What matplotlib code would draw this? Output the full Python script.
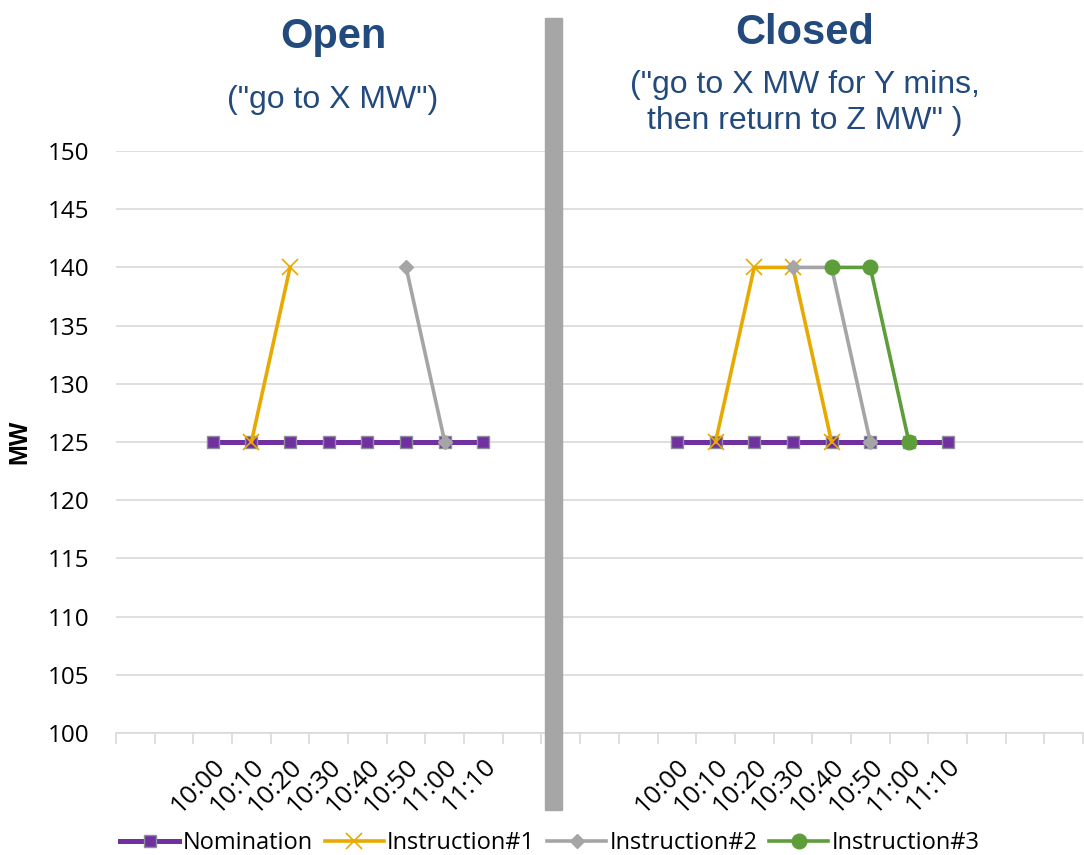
import numpy as np
import matplotlib
matplotlib.use("Agg")
import matplotlib.pyplot as plt
from matplotlib.patches import Rectangle

# Category slots along one shared time axis (left block = Open, right block = Closed)
n_slots = 25
time_labels = ["10:00", "10:10", "10:20", "10:30", "10:40", "10:50", "11:00", "11:10"]
open_start = 2
closed_start = 14

nan = np.nan
# Values per time step for each block (NaN = no point)
nomination_open = [125, 125, 125, 125, 125, 125, 125, 125]
instr1_open = [nan, 125, 140, nan, nan, nan, nan, nan]
instr2_open = [nan, nan, nan, nan, nan, 140, 125, nan]
instr3_open = [nan, nan, nan, nan, nan, nan, nan, nan]

nomination_closed = [125, 125, 125, 125, 125, 125, 125, 125]
instr1_closed = [nan, 125, 140, 140, 125, nan, nan, nan]
instr2_closed = [nan, nan, nan, 140, 140, 125, nan, nan]
instr3_closed = [nan, nan, nan, nan, 140, 140, 125, nan]

y_ticks = [100, 105, 110, 115, 120, 125, 130, 135, 140, 145, 150]


def full_series(open_vals, closed_vals):
    s = np.full(n_slots, np.nan)
    s[open_start:open_start + len(open_vals)] = open_vals
    s[closed_start:closed_start + len(closed_vals)] = closed_vals
    return s


x = np.arange(n_slots)
labels = [""] * n_slots
for i, t in enumerate(time_labels):
    labels[open_start + i] = t
    labels[closed_start + i] = t

plt.rcParams["font.family"] = ["Liberation Sans", "DejaVu Sans"]
body_font = ["Open Sans", "DejaVu Sans"]

fig = plt.figure(figsize=(10.84, 8.55), dpi=100)
ax = fig.add_axes([116 / 1084, 1 - 733 / 855, 967 / 1084, (733 - 151) / 855])

purple = "#7030A0"
gold = "#E8AA00"
grey = "#A5A5A5"
green = "#5E9E3A"

ax.plot(x, full_series(nomination_open, nomination_closed), color=purple, lw=3.6,
        marker="s", ms=8, mfc=purple, mec="#8E8E9E", mew=1.0, label="Nomination", zorder=3)
ax.plot(x, full_series(instr1_open, instr1_closed), color=gold, lw=2.6,
        marker="x", ms=11, mew=1.2, mec=gold, label="Instruction#1", zorder=4)
ax.plot(x, full_series(instr2_open, instr2_closed), color=grey, lw=2.6,
        marker="D", ms=7, mfc=grey, mec=grey, label="Instruction#2", zorder=5)
ax.plot(x, full_series(instr3_open, instr3_closed), color=green, lw=2.6,
        marker="o", ms=10.5, mfc=green, mec=green, label="Instruction#3", zorder=6)

ax.set_xlim(-0.5, n_slots - 0.5)
ax.set_ylim(100, 150)
ax.set_yticks(y_ticks)
ax.set_yticklabels([str(v) for v in y_ticks], family=body_font)
ax.tick_params(axis="y", length=0, labelsize=17.5, pad=19)
ax.yaxis.grid(True, color="#D9D9D9", lw=1.2)
ax.set_axisbelow(True)

ax.set_xticks(x)
ax.set_xticklabels(labels, rotation=45, ha="right", rotation_mode="anchor",
                   fontsize=18.5, family=body_font)
ax.tick_params(axis="x", which="major", length=0, pad=15)
ax.set_xticks(np.arange(-0.5, n_slots, 1.0), minor=True)
ax.tick_params(axis="x", which="minor", length=8, color="#D9D9D9", width=1.2)

for side in ["top", "right", "left"]:
    ax.spines[side].set_visible(False)
ax.spines["bottom"].set_color("#D9D9D9")
ax.spines["bottom"].set_linewidth(1.2)

ax.set_ylabel("MW", fontsize=18, fontweight="bold", labelpad=12)

# Divider between the two blocks
fig.patches.append(Rectangle((545 / 1084, 1 - 810 / 855), 17 / 1084, (810 - 18) / 855,
                             transform=fig.transFigure, color="#A6A6A6", zorder=10))

title_color = "#234A7C"
fig.text(333 / 1084, 1 - 37 / 855, "Open", ha="center", va="center",
         fontsize=30, fontweight="bold", color=title_color)
fig.text(333 / 1084, 1 - 100 / 855, '("go to X MW")', ha="center", va="center",
         fontsize=23, color=title_color)
fig.text(805 / 1084, 1 - 33 / 855, "Closed", ha="center", va="center",
         fontsize=30, fontweight="bold", color=title_color)
fig.text(805 / 1084, 1 - 103 / 855, '("go to X MW for Y mins,\nthen return to Z MW" )',
         ha="center", va="center", fontsize=23, color=title_color, linespacing=1.25)

fig.legend(loc="center", bbox_to_anchor=(550 / 1084, 1 - 843 / 855), ncol=4,
           frameon=False, handlelength=2.5, handletextpad=0.15,
           columnspacing=0.5, prop={"family": body_font, "size": 17})

fig.savefig("out.png", dpi=100)
